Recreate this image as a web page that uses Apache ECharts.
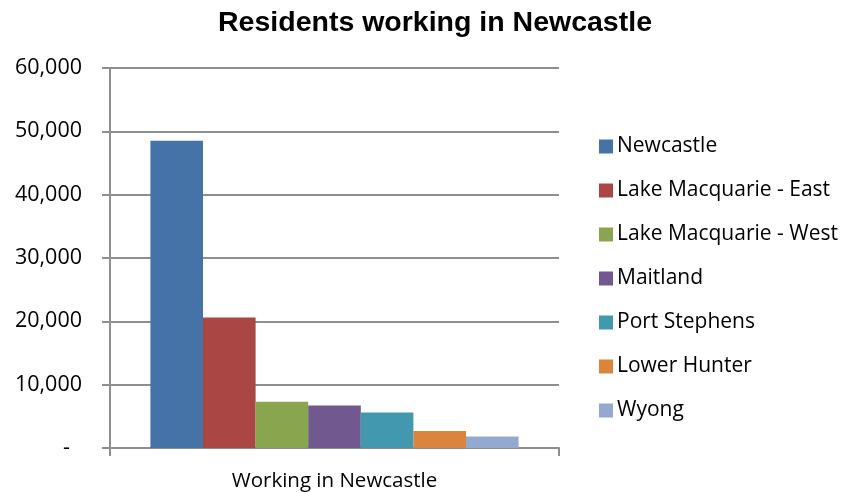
<!DOCTYPE html>
<html>
<head>
<meta charset="utf-8">
<script src="https://cdn.jsdelivr.net/npm/echarts@6/dist/echarts.min.js"></script>
<style>
  html, body { margin: 0; padding: 0; background: #fff; }
  #chart { width: 845px; height: 492px; }
</style>
</head>
<body>
<div id="chart"></div>
<script>
// Residents working in Newcastle, by area of residence
var categories = ['Working in Newcastle'];
var regions = ['Newcastle', 'Lake Macquarie - East', 'Lake Macquarie - West', 'Maitland', 'Port Stephens', 'Lower Hunter', 'Wyong'];
var values = [48500, 20600, 7300, 6700, 5600, 2700, 1800];
var colors = ['#4572A7', '#AA4643', '#89A54E', '#71588F', '#4198AF', '#DB843D', '#93A9CF'];
var yTicks = { min: 0, max: 60000, interval: 10000 };

var labelFont = '"Open Sans", Lato, sans-serif';
var axisGrey = '#8e8e8e';

var series = regions.map(function (name, i) {
  return {
    name: name,
    type: 'bar',
    data: [values[i]],
    itemStyle: { color: colors[i] },
    barGap: '0%',
    barCategoryGap: '18%'
  };
});

var chart = echarts.init(document.getElementById('chart'));
chart.setOption({
  animation: false,
  title: {
    text: 'Residents working in Newcastle',
    left: 430,
    textAlign: 'center',
    top: 4,
    textStyle: { fontFamily: '"Liberation Sans", Arial, sans-serif', fontWeight: 'bold', fontSize: 28.5, color: '#000' }
  },
  legend: {
    orient: 'vertical',
    left: 594,
    top: 131,
    itemWidth: 14,
    itemHeight: 14,
    itemGap: 23,
    icon: 'rect',
    textStyle: { fontFamily: labelFont, fontSize: 21, color: '#000', padding: [0, 0, 0, -1] },
    data: regions
  },
  grid: { left: 110, right: 286, top: 68, bottom: 44 },
  xAxis: {
    type: 'category',
    data: categories,
    axisLine: { lineStyle: { color: axisGrey, width: 2 } },
    axisTick: { show: true, length: 8, lineStyle: { color: axisGrey, width: 2 } },
    axisLabel: { fontFamily: labelFont, fontSize: 20.5, color: '#000', margin: 23 }
  },
  yAxis: {
    type: 'value',
    min: yTicks.min,
    max: yTicks.max,
    interval: yTicks.interval,
    axisLine: { show: true, lineStyle: { color: axisGrey, width: 2 } },
    axisTick: { show: true, length: 8, lineStyle: { color: axisGrey, width: 2 } },
    splitLine: { lineStyle: { color: axisGrey, width: 2 } },
    axisLabel: {
      fontFamily: labelFont,
      fontSize: 21.5,
      color: '#000',
      margin: 28,
      formatter: function (v) {
        if (v === 0) return '{z|-}';
        return v.toLocaleString('en-US');
      },
      rich: {
        z: { fontFamily: labelFont, fontSize: 21.5, color: '#000', padding: [0, 12, 0, 0] }
      }
    }
  },
  series: series
});
</script>
</body>
</html>
